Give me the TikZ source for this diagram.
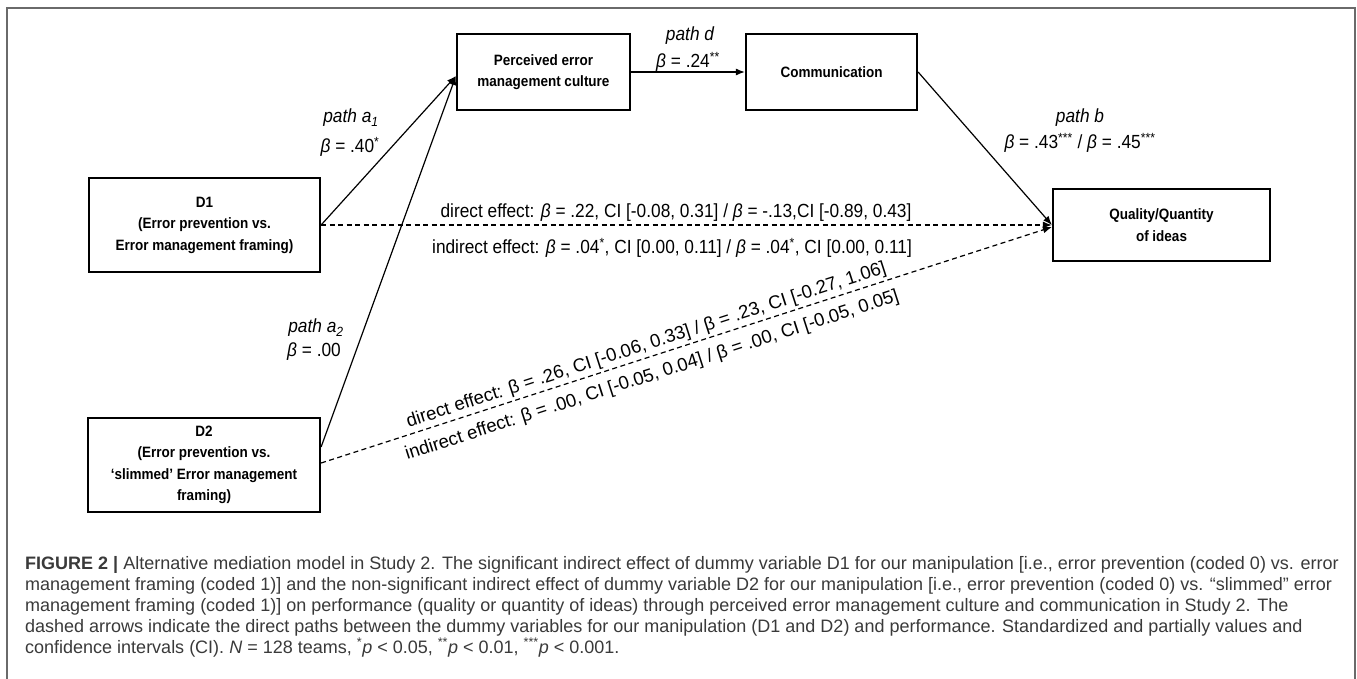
\documentclass[tikz,border=0pt]{standalone}
\usepackage{fontspec}
\setmainfont{Liberation Sans}
\newfontfamily\labf[FakeStretch=0.91]{Liberation Sans}
\newfontfamily\boxf[FakeStretch=0.9]{Liberation Sans}
\usetikzlibrary{arrows.meta}
\definecolor{framec}{HTML}{6A6A6A}
\definecolor{capc}{HTML}{3A3A3A}
\tikzset{
  boxnode/.style={draw, line width=2.2pt, align=center, inner sep=0pt,
    font=\boxf\bfseries\fontsize{15}{21.5}\selectfont},
  lab/.style={inner sep=0pt, font=\labf\fontsize{19}{23}\selectfont},
  dlab/.style={inner sep=0pt, font=\fontsize{18.5}{23}\selectfont},
  arr/.style={line width=1.2pt, -{Latex[length=9pt,width=7pt]}},
  darr/.style={line width=1.2pt, dash pattern=on 5pt off 3.5pt, -{Latex[length=9pt,width=7pt]}},
  captext/.style={anchor=base west, inner sep=0pt, text=capc, font=\fontsize{18}{21}\selectfont}
}
\newcommand{\bet}{{\itshape β}}
\newcommand{\st}[1]{\textsuperscript{#1}}
\begin{document}
\begin{tikzpicture}[x=1pt,y=-1pt]
\useasboundingbox (0,0) rectangle (1357,679);
\fill[white] (0,0) rectangle (1357,679);
\draw[framec, line width=1.5pt] (7,679) -- (7,8) -- (1355,8) -- (1355,679);

% boxes
\node[boxnode, minimum width=173pt, minimum height=76pt] (P) at (543.5,72) {Perceived error\\management culture};
\node[boxnode, minimum width=171pt, minimum height=76pt] (C) at (831.5,72) {Communication};
\node[boxnode, minimum width=217pt, minimum height=72pt] (Q) at (1161.5,225) {Quality/Quantity\\of ideas};
\node[boxnode, minimum width=231pt, minimum height=94pt] (D1) at (204.5,225) {D1\\(Error prevention vs.\\Error management framing)};
\node[boxnode, minimum width=232pt, minimum height=94pt] (D2) at (204,465) {D2\\(Error prevention vs.\\‘slimmed’ Error management\\framing)};

% connectors
\coordinate (pin) at ([yshift=-4pt]P.west);
\coordinate (d2s) at ([yshift=2pt]D2.east);
\coordinate (qin) at ([yshift=-2pt]Q.west);
\draw[arr] (P.east) -- (C.west);
\draw[arr] (C.east) -- (Q.west);
\draw[arr] (D1.east) -- (pin);
\draw[arr] ([yshift=18pt]D2.east) -- (pin);
\draw[darr] (D1.east) -- (Q.west);
\draw[darr] (d2s) -- (qin);
\path (d2s) -- (qin)
  node[dlab, sloped, pos=0.45, above=3pt] (dir2) {direct effect: β = .26, CI [-0.06, 0.33] / β = .23, CI [-0.27, 1.06]}
  node[dlab, sloped, pos=0.445, below=10pt] (ind2) {indirect effect: β = .00, CI [-0.05, 0.04] / β = .00, CI [-0.05, 0.05]};

% labels
\node[lab] (la1) at (351,118) {\itshape path a\textsubscript{1}};
\node[lab] (lb1) at (350,147) {\bet{} = .40\st{*}};
\node[lab] (la2) at (316,328) {\itshape path a\textsubscript{2}};
\node[lab] (lb2) at (314,352) {\bet{} = .00};
\node[lab] (ld) at (690,36) {\itshape path d};
\node[lab] (ldb) at (688,62) {\bet{} = .24\st{**}};
\node[lab] (lbp) at (1080,118) {\itshape path b};
\node[lab] (lbb) at (1080,143) {\bet{} = .43\st{***} / \bet{} = .45\st{***}};
\node[lab] (dir1) at (676,213) {direct effect: \bet{} = .22, CI [-0.08, 0.31] / \bet{} = -.13,CI [-0.89, 0.43]};
\node[lab] (ind1) at (672,248) {indirect effect: \bet{} = .04\st{*}, CI [0.00, 0.11] / \bet{} = .04\st{*}, CI [0.00, 0.11]};

% caption
\node[captext] (c1) at (25,569) {\textbf{FIGURE 2 |} Alternative mediation model in Study 2. The significant indirect effect of dummy variable D1 for our manipulation [i.e., error prevention (coded 0) vs. error};
\node[captext] (c2) at (25,590) {management framing (coded 1)] and the non-significant indirect effect of dummy variable D2 for our manipulation [i.e., error prevention (coded 0) vs. “slimmed” error};
\node[captext] (c3) at (25,611) {management framing (coded 1)] on performance (quality or quantity of ideas) through perceived error management culture and communication in Study 2. The};
\node[captext] (c4) at (25,632) {dashed arrows indicate the direct paths between the dummy variables for our manipulation (D1 and D2) and performance. Standardized and partially values and};
\node[captext] (c5) at (25,653) {confidence intervals (CI). \textit{N} = 128 teams, \st{*}\textit{p} < 0.05, \st{**}\textit{p} < 0.01, \st{***}\textit{p} < 0.001.};
\end{tikzpicture}
\end{document}
